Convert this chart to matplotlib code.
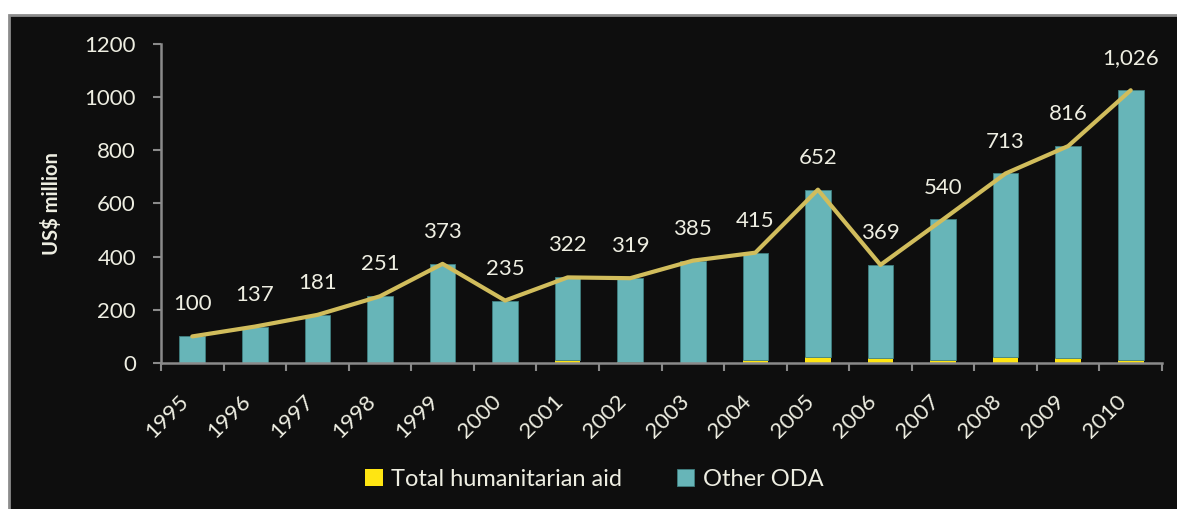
import numpy as np
import matplotlib.pyplot as plt
from matplotlib.patches import Rectangle

plt.rcParams['font.family'] = ['Lato', 'DejaVu Sans']

years = ['1995', '1996', '1997', '1998', '1999', '2000', '2001', '2002',
         '2003', '2004', '2005', '2006', '2007', '2008', '2009', '2010']
total = [100, 137, 181, 251, 373, 235, 322, 319, 385, 415, 652, 369, 540, 713, 816, 1026]
humanitarian = [0, 0, 1, 1, 0, 0, 13, 3, 1, 11, 24, 19, 12, 21, 17, 12]
other_oda = [t - h for t, h in zip(total, humanitarian)]
labels = ['100', '137', '181', '251', '373', '235', '322', '319', '385', '415',
          '652', '369', '540', '713', '816', '1,026']

bg = '#0e0e0e'
txt = '#eeeee2'
teal = '#67b5b8'
yellow = '#ffe512'
linec = '#d1bd5c'
axc = '#8a8a8a'

fig = plt.figure(figsize=(11.77, 5.09), dpi=100, facecolor='white')
panel = Rectangle((9 / 1177, -0.05), 1.1, 1 - 15 / 509 + 0.05,
                  transform=fig.transFigure, facecolor=bg,
                  edgecolor='#8c8c8c', linewidth=2, zorder=-5)
fig.add_artist(panel)

ax = fig.add_axes([161 / 1177, 1 - 363 / 509, 1001 / 1177, 319 / 509])
ax.set_zorder(2)
ax.set_facecolor(bg)

x = np.arange(len(years))
ax.bar(x, humanitarian, width=0.41, color=yellow, label='Total humanitarian aid', zorder=2)
ax.bar(x, other_oda, width=0.41, bottom=humanitarian, color=teal, edgecolor='#3f7f80',
       linewidth=0.6, label='Other ODA', zorder=2)
ax.plot(x, total, color=linec, linewidth=3, zorder=3, solid_capstyle='round')

for xi, t, lab in zip(x, total, labels):
    ax.annotate(lab, (xi, t), xytext=(0, 23), textcoords='offset points',
                ha='center', va='center', color=txt, fontsize=16)

ax.set_xlim(-0.5, len(years) - 0.5)
ax.set_ylim(0, 1200)
ax.set_yticks(range(0, 1201, 200))
ax.set_xticks(x)
ax.set_xticklabels(years, rotation=45, ha='right', va='top')
ax.set_xticks(np.arange(-0.5, len(years), 1), minor=True)
ax.tick_params(axis='x', which='major', length=0, pad=20, labelsize=16, labelcolor=txt)
ax.tick_params(axis='x', which='minor', length=6, width=1.5, color=axc)
ax.tick_params(axis='y', length=6, width=1.5, color=axc, pad=12, labelsize=16, labelcolor=txt)

for s in ['top', 'right']:
    ax.spines[s].set_visible(False)
for s in ['left', 'bottom']:
    ax.spines[s].set_color(axc)
    ax.spines[s].set_linewidth(1.8)

ax.set_ylabel('US$ million', color=txt, fontsize=14.5, fontweight='bold', labelpad=16)

leg = fig.legend(loc='center', bbox_to_anchor=(0.505, 0.058), ncol=2, frameon=False,
                 fontsize=17, handlelength=0.75, handleheight=0.75, handletextpad=0.35,
                 columnspacing=2.3)
for t in leg.get_texts():
    t.set_color(txt)

fig.savefig('out.png', dpi=100, facecolor=fig.get_facecolor())
